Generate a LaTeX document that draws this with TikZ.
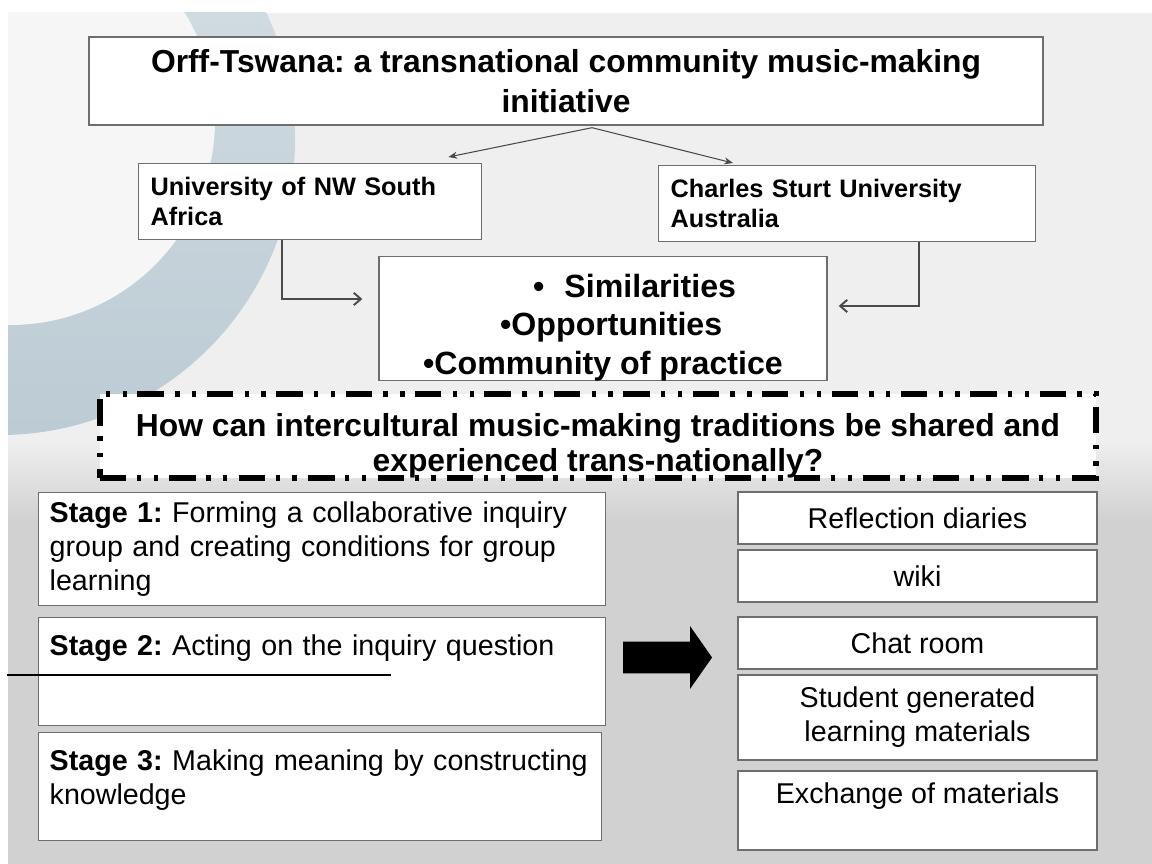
\documentclass[tikz,border=0pt]{standalone}
\usepackage{fontspec}
\setmainfont{Liberation Sans}
\usetikzlibrary{arrows.meta,shapes.arrows}

\newlength{\pxu}
\setlength{\pxu}{0.02cm}

\definecolor{boxline}{HTML}{6E6E6E}
\definecolor{linkgray}{HTML}{4A4A4A}
\definecolor{bgtop}{HTML}{EFEFEF}
\definecolor{bgbottom}{HTML}{D1D1D1}
\definecolor{ringtop}{HTML}{D8E0E6}
\definecolor{ringbottom}{HTML}{BCCBD4}
\definecolor{discwhite}{HTML}{F6F6F6}

\newcommand{\titlesize}{\fontsize{18.1}{22.7}\selectfont}
\newcommand{\unisize}{\fontsize{14.4}{17}\selectfont}
\newcommand{\themesize}{\fontsize{18.3}{21.8}\selectfont}
\newcommand{\asksize}{\fontsize{18.1}{19.8}\selectfont}
\newcommand{\bodysize}{\fontsize{16.3}{19.3}\selectfont}

\tikzset{
  box/.style={draw=boxline, line width=0.8pt, fill=white, inner sep=0pt},
  unibox/.style={box, anchor=north west, align=left, font=\unisize\bfseries,
    minimum height=76\pxu},
  stagebox/.style={box, anchor=north west, align=left, font=\bodysize,
    minimum width=567\pxu, text width=545\pxu},
  toolbox/.style={box, align=center, font=\bodysize, minimum width=359\pxu},
  askbox/.style={draw=black, fill=white, line width=3.4pt, inner sep=0pt,
    dash pattern=on 15pt off 6pt on 2.5pt off 7pt on 2.5pt off 6.5pt},
  fanout/.style={draw=linkgray, line width=0.6pt,
    -{Stealth[length=5pt,width=4pt]}},
  elbow/.style={draw=linkgray, line width=0.8pt,
    -{Straight Barb[length=4pt,width=7pt,line width=1.1pt]}}
}

\begin{document}
\frenchspacing
\begin{tikzpicture}[x=\pxu, y=-\pxu]
\useasboundingbox (0,0) rectangle (1152,864);

% background
\fill[white] (0,0) rectangle (1152,864);
\fill[bgtop] (8,13) rectangle (1152,864);
\begin{scope}
\clip (8,13) rectangle (1152,864);
\shade[top color=ringtop, bottom color=ringbottom] (0,140) circle (295);
\fill[discwhite] (10,120) circle (205);
\end{scope}
\shade[top color=bgtop, bottom color=bgbottom] (8,440) rectangle (1152,520);
\fill[bgbottom] (8,519.5) rectangle (1152,864);

% top part
\node[box, minimum width=954\pxu, minimum height=88\pxu, align=center,
  font=\titlesize\bfseries] (title) at (566,81)
  {Orff-Tswana: a transnational community music-making\\initiative};
\node[unibox, minimum width=343\pxu, text width=319\pxu] (nwu) at (138,163)
  {University of NW South\\Africa};
\node[unibox, minimum width=377\pxu, text width=353\pxu] (csu) at (658,165)
  {Charles Sturt University\\Australia};
\node[box, minimum width=448\pxu, minimum height=123\pxu, align=left,
  font=\themesize\bfseries] (themes) at (603,318.5)
  {\rule{0pt}{23.5pt}\hspace*{110\pxu}\textbullet\hspace{20\pxu}Similarities\\
   \hspace*{77\pxu}\textbullet Opportunities\\\textbullet Community of practice};

\coordinate (fork) at ([xshift=26\pxu,yshift=-2\pxu]title.south);
\draw[fanout] (fork) -- ([xshift=-34\pxu,yshift=6\pxu]nwu.north east);
\draw[fanout] (fork) -- ([xshift=75\pxu,yshift=2\pxu]csu.north west);
\draw[elbow] ([xshift=144\pxu]nwu.south west) |- ([xshift=-16\pxu,yshift=19.5\pxu]themes.west);
\draw[elbow] ([xshift=261\pxu]csu.south west) |- ([xshift=11\pxu,yshift=12.5\pxu]themes.east);

% question
\node[askbox, minimum width=996\pxu, minimum height=84\pxu, align=center,
  font=\asksize\bfseries] (ask) at (598,436)
  {\rule{0pt}{24.5pt}How can intercultural music-making traditions be shared and\\experienced trans-nationally?};

% stages
\node[stagebox, minimum height=113\pxu] (stage1) at (38,492)
  {\textbf{Stage 1:} Forming a collaborative inquiry\\group and creating conditions for group\\learning};
\node[stagebox, minimum height=108\pxu] (stage2) at (38,617)
  {\rule{0pt}{20pt}\textbf{Stage 2:} Acting on the inquiry question\\\mbox{}\\\mbox{}};
\node[stagebox, minimum width=563\pxu, text width=541\pxu, minimum height=108\pxu] (stage3) at (38,732)
  {\rule{0pt}{20pt}\textbf{Stage 3:} Making meaning by constructing\\knowledge\\\mbox{}};
\draw[line width=1.2pt] (7,675) -- (391,675);

\node[single arrow, fill=black, inner sep=15.5\pxu, minimum height=89\pxu,
  single arrow head extend=15.5\pxu, single arrow tip angle=110] (push) at (662,657.5) {};

% tools
\node[toolbox, minimum height=52\pxu] (diaries) at (917.5,518) {Reflection diaries};
\node[toolbox, minimum height=52\pxu] (wiki) at (917.5,576) {wiki};
\node[toolbox, minimum height=52\pxu] (chat) at (917.5,643) {Chat room};
\node[toolbox, minimum height=85\pxu] (materials) at (917.5,717.5) {Student generated\\learning materials};
\node[toolbox, minimum height=79\pxu] (exchange) at (917.5,810.5) {Exchange of materials\\\mbox{}};
\end{tikzpicture}
\end{document}
